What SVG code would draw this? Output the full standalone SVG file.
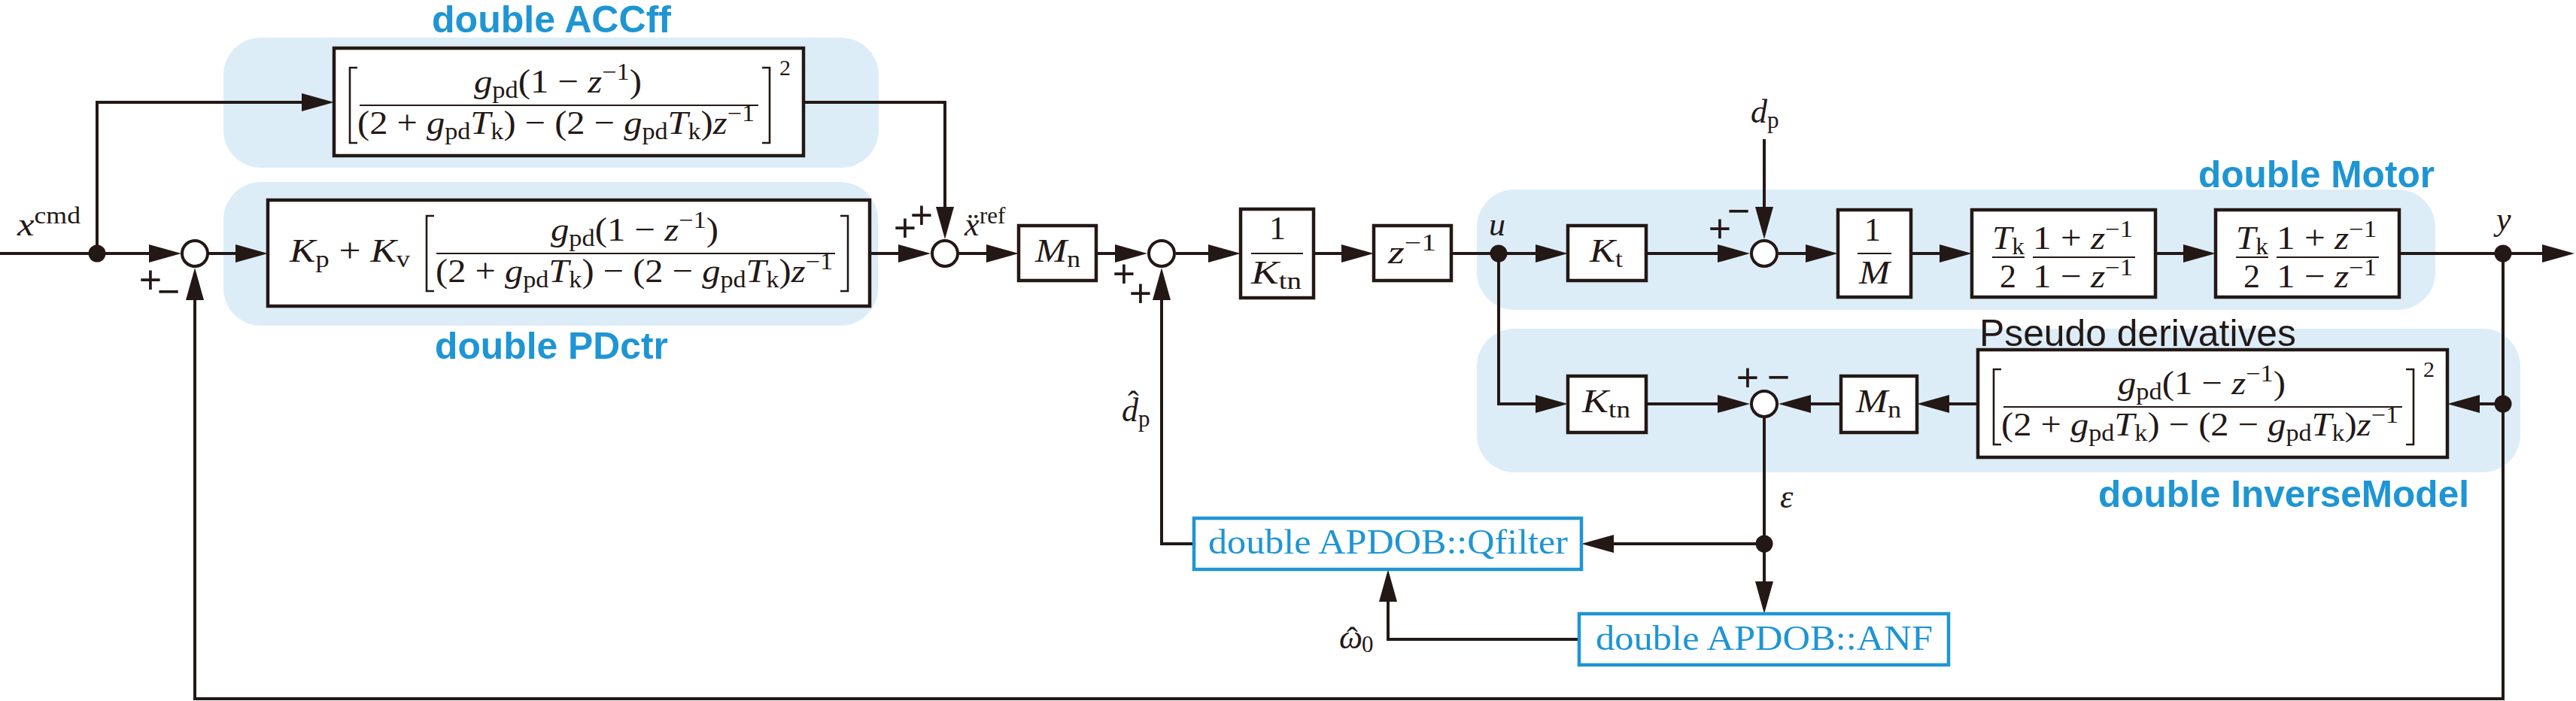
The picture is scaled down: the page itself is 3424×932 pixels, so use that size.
<svg xmlns="http://www.w3.org/2000/svg" width="3424" height="932" viewBox="0 0 3424 932">
<style>
.bg{fill:#dcedf8;stroke:none}
.lbl{font-family:"Liberation Sans",Arial,sans-serif;font-weight:bold;font-size:50px;fill:#1e95d4}
.plain{font-family:"Liberation Sans",Arial,sans-serif;font-size:50px;fill:#231815}
.box{fill:#fff;stroke:#231815;stroke-width:4.5}
.bbox{fill:#fff;stroke:#1e95d4;stroke-width:4.5}
.btxt{font-family:"Liberation Serif","Times New Roman",serif;font-size:46px;fill:#1e95d4}
.sum{fill:#fff;stroke:#231815;stroke-width:4}
.dot{fill:#231815}
.m{font-family:"Liberation Serif","Times New Roman",serif;font-size:44px;fill:#231815}
.i{font-style:italic}
.n{font-style:normal}
.s{font-size:31px}
.sp{font-size:30px}
.sg{font-family:"Liberation Sans",Arial,sans-serif;font-size:52px;fill:#231815;text-anchor:middle}
.bar{stroke:#231815;stroke-width:2.2;fill:none}
.brk{stroke:#231815;stroke-width:2.6;fill:none}
.ln{fill:none;stroke:#231815;stroke-width:4;marker-end:url(#ah)}
</style>
<defs>
<marker id="ah" markerUnits="userSpaceOnUse" markerWidth="44" markerHeight="26" refX="35" refY="12" orient="auto" overflow="visible"><path d="M0,0 L43,12 L0,24 Z" fill="#231815"/></marker>
</defs>
<rect x="0" y="0" width="3424" height="932" fill="#fff"/>

<g id="group-accff">
<rect class="bg" x="297" y="50" width="871" height="173" rx="50"/>
<text class="lbl" x="574" y="43" textLength="318" lengthAdjust="spacingAndGlyphs">double ACCff</text>
</g>
<g id="group-pdctr">
<rect class="bg" x="297" y="242" width="870" height="191" rx="50"/>
<text class="lbl" x="578" y="477" textLength="310" lengthAdjust="spacingAndGlyphs">double PDctr</text>
</g>
<g id="group-motor">
<rect class="bg" x="1963" y="252" width="1274" height="160" rx="50"/>
<text class="lbl" x="2922" y="249" textLength="314" lengthAdjust="spacingAndGlyphs">double Motor</text>
</g>
<g id="group-inverse">
<rect class="bg" x="1963" y="437" width="1387" height="191" rx="50"/>
<text class="lbl" x="2789" y="674" textLength="493" lengthAdjust="spacingAndGlyphs">double InverseModel</text>
</g>

<g id="connectors">
<path class="ln" d="M0,337 H233"/>
<path class="ln" d="M129,337 V136 H436"/>
<path class="ln" d="M277,337 H348"/>
<path class="ln" d="M1156,337 H1229"/>
<path class="ln" d="M1068,136 H1256 V310"/>
<path class="ln" d="M1275,337 H1346"/>
<path class="ln" d="M1457,337 H1517"/>
<path class="ln" d="M1563,337 H1641"/>
<path class="ln" d="M1746,337 H1818"/>
<path class="ln" d="M1929,337 H2076"/>
<path class="ln" d="M2188,337 H2318"/>
<path class="ln" d="M2345,185 V310"/>
<path class="ln" d="M2364,337 H2435"/>
<path class="ln" d="M2540,337 H2613"/>
<path class="ln" d="M2865,337 H2937"/>
<path class="ln" d="M3189,337 H3414"/>
<path class="ln" d="M1992,337 V537 H2076"/>
<path class="ln" d="M2188,537 H2318"/>
<path class="ln" d="M3327,337 V929 H259 V364"/>
<path class="ln" d="M3327,537 H3261"/>
<path class="ln" d="M2629,537 H2556"/>
<path class="ln" d="M2447,537 H2372"/>
<path class="ln" d="M2345,556 V808"/>
<path class="ln" d="M2345,723 H2110"/>
<path class="ln" d="M1587,723 H1544 V364"/>
<path class="ln" d="M2099,850 H1845 V765"/>
</g>

<g id="junctions">
<circle class="dot" cx="129" cy="337" r="11.5"/>
<circle class="dot" cx="1992" cy="337" r="11.5"/>
<circle class="dot" cx="3327" cy="337" r="11.5"/>
<circle class="dot" cx="3327" cy="537" r="11.5"/>
<circle class="dot" cx="2345" cy="723" r="11.5"/>
</g>

<g id="input-label">
<text class="m" x="23" y="313" textLength="84" lengthAdjust="spacingAndGlyphs"><tspan class="i">x</tspan><tspan class="s" dy="-16">cmd</tspan></text>
</g>

<g id="sum1">
<circle class="sum" cx="259" cy="337" r="17"/>
<text class="sg"><tspan x="200" y="390">+</tspan><tspan x="224" y="405">−</tspan></text>
</g>

<g id="accff">
<rect class="box" x="444" y="64" width="624" height="143"/>
<path class="brk" d="M475,90 H465 V190 H475"/>
<path class="brk" d="M1013,90 H1023 V190 H1013"/>
<line class="bar" x1="478" y1="140" x2="1008" y2="140"/>
<text class="m" x="630" y="123" textLength="223" lengthAdjust="spacingAndGlyphs"><tspan class="i">g</tspan><tspan class="s" dy="7">pd</tspan><tspan dy="-7">(1 − </tspan><tspan class="i">z</tspan><tspan class="s" dy="-17">−1</tspan><tspan dy="17">)</tspan></text>
<text class="m" x="475" y="178" textLength="528" lengthAdjust="spacingAndGlyphs">(2 + <tspan class="i">g</tspan><tspan class="s" dy="7">pd</tspan><tspan class="i" dy="-7">T</tspan><tspan class="s" dy="7">k</tspan><tspan dy="-7">) − (2 − </tspan><tspan class="i">g</tspan><tspan class="s" dy="7">pd</tspan><tspan class="i" dy="-7">T</tspan><tspan class="s" dy="7">k</tspan><tspan dy="-7">)</tspan><tspan class="i">z</tspan><tspan class="s" dy="-17">−1</tspan></text>
<text class="m sp" x="1036" y="100">2</text>
</g>

<g id="pdctr">
<rect class="box" x="356" y="266" width="800" height="141"/>
<text class="m" x="385" y="348" textLength="160" lengthAdjust="spacingAndGlyphs"><tspan class="i">K</tspan><tspan class="s" dy="7">p</tspan><tspan dy="-7"> + </tspan><tspan class="i">K</tspan><tspan class="s" dy="7">v</tspan></text>
<path class="brk" d="M577,287 H567 V387 H577"/>
<path class="brk" d="M1117,287 H1127 V387 H1117"/>
<line class="bar" x1="580" y1="337" x2="1110" y2="337"/>
<text class="m" x="732" y="320" textLength="223" lengthAdjust="spacingAndGlyphs"><tspan class="i">g</tspan><tspan class="s" dy="7">pd</tspan><tspan dy="-7">(1 − </tspan><tspan class="i">z</tspan><tspan class="s" dy="-17">−1</tspan><tspan dy="17">)</tspan></text>
<text class="m" x="579" y="375" textLength="528" lengthAdjust="spacingAndGlyphs">(2 + <tspan class="i">g</tspan><tspan class="s" dy="7">pd</tspan><tspan class="i" dy="-7">T</tspan><tspan class="s" dy="7">k</tspan><tspan dy="-7">) − (2 − </tspan><tspan class="i">g</tspan><tspan class="s" dy="7">pd</tspan><tspan class="i" dy="-7">T</tspan><tspan class="s" dy="7">k</tspan><tspan dy="-7">)</tspan><tspan class="i">z</tspan><tspan class="s" dy="-17">−1</tspan></text>
</g>

<g id="sum2">
<circle class="sum" cx="1256" cy="337" r="17"/>
<text class="sg"><tspan x="1203" y="321">+</tspan><tspan x="1225" y="304">+</tspan></text>
<text class="m"><tspan class="i" x="1282" y="313">x</tspan><tspan class="s" x="1302" y="297">ref</tspan><tspan x="1286" y="314">¨</tspan></text>
</g>

<g id="mn1">
<rect class="box" x="1354" y="300" width="103" height="73"/>
<text class="m" x="1376" y="348" textLength="60" lengthAdjust="spacingAndGlyphs"><tspan class="i">M</tspan><tspan class="s" dy="7">n</tspan></text>
</g>

<g id="sum3">
<circle class="sum" cx="1544" cy="337" r="17"/>
<text class="sg"><tspan x="1494" y="382">+</tspan><tspan x="1516" y="408">+</tspan></text>
</g>

<g id="invktn">
<rect class="box" x="1649" y="278" width="97" height="118"/>
<text class="m" x="1698" y="318" text-anchor="middle">1</text>
<line class="bar" x1="1663" y1="337" x2="1732" y2="337"/>
<text class="m" x="1663" y="377" textLength="67" lengthAdjust="spacingAndGlyphs"><tspan class="i">K</tspan><tspan class="s" dy="7">tn</tspan></text>
</g>

<g id="zinv">
<rect class="box" x="1826" y="300" width="103" height="73"/>
<text class="m" x="1845" y="350" textLength="64" lengthAdjust="spacingAndGlyphs"><tspan class="i">z</tspan><tspan class="s" dy="-17">−1</tspan></text>
</g>

<g id="u-label"><text class="m i" x="1979" y="313">u</text></g>

<g id="kt">
<rect class="box" x="2084" y="300" width="104" height="73"/>
<text class="m" x="2113" y="348" textLength="44" lengthAdjust="spacingAndGlyphs"><tspan class="i">K</tspan><tspan class="s" dy="7">t</tspan></text>
</g>

<g id="dp-label">
<text class="m" x="2327" y="163"><tspan class="i">d</tspan><tspan class="s" dy="7">p</tspan></text>
</g>

<g id="sum4">
<circle class="sum" cx="2345" cy="337" r="17"/>
<text class="sg"><tspan x="2286" y="322">+</tspan><tspan x="2311" y="298">−</tspan></text>
</g>

<g id="invm">
<rect class="box" x="2443" y="279" width="97" height="116"/>
<text class="m" x="2489" y="320" text-anchor="middle">1</text>
<line class="bar" x1="2469" y1="337" x2="2514" y2="337"/>
<text class="m i" x="2471" y="377" textLength="41" lengthAdjust="spacingAndGlyphs">M</text>
</g>

<g id="tk1">
<rect class="box" x="2621" y="279" width="244" height="116"/>
<text class="m" x="2648" y="331" textLength="43" lengthAdjust="spacingAndGlyphs"><tspan class="i">T</tspan><tspan class="s" dy="7">k</tspan></text>
<line class="bar" x1="2648" y1="342" x2="2691" y2="342"/>
<text class="m" x="2669" y="382" text-anchor="middle">2</text>
<text class="m" x="2702" y="331" textLength="133" lengthAdjust="spacingAndGlyphs">1 + <tspan class="i">z</tspan><tspan class="s" dy="-16">−1</tspan></text>
<line class="bar" x1="2702" y1="342" x2="2838" y2="342"/>
<text class="m" x="2702" y="382" textLength="133" lengthAdjust="spacingAndGlyphs">1 − <tspan class="i">z</tspan><tspan class="s" dy="-16">−1</tspan></text>
</g>

<g id="tk2">
<rect class="box" x="2945" y="279" width="244" height="116"/>
<text class="m" x="2972" y="331" textLength="43" lengthAdjust="spacingAndGlyphs"><tspan class="i">T</tspan><tspan class="s" dy="7">k</tspan></text>
<line class="bar" x1="2972" y1="342" x2="3015" y2="342"/>
<text class="m" x="2993" y="382" text-anchor="middle">2</text>
<text class="m" x="3026" y="331" textLength="133" lengthAdjust="spacingAndGlyphs">1 + <tspan class="i">z</tspan><tspan class="s" dy="-16">−1</tspan></text>
<line class="bar" x1="3026" y1="342" x2="3162" y2="342"/>
<text class="m" x="3026" y="382" textLength="133" lengthAdjust="spacingAndGlyphs">1 − <tspan class="i">z</tspan><tspan class="s" dy="-16">−1</tspan></text>
</g>

<g id="y-label"><text class="m i" x="3318" y="306">y</text></g>

<g id="ktn2">
<rect class="box" x="2084" y="500" width="104" height="75"/>
<text class="m" x="2103" y="548" textLength="64" lengthAdjust="spacingAndGlyphs"><tspan class="i">K</tspan><tspan class="s" dy="7">tn</tspan></text>
</g>

<g id="sum5">
<circle class="sum" cx="2345" cy="537" r="17"/>
<text class="sg"><tspan x="2323" y="520">+</tspan><tspan x="2364" y="519">−</tspan></text>
</g>

<g id="mn2">
<rect class="box" x="2447" y="500" width="101" height="75"/>
<text class="m" x="2467" y="548" textLength="60" lengthAdjust="spacingAndGlyphs"><tspan class="i">M</tspan><tspan class="s" dy="7">n</tspan></text>
</g>

<g id="pseudo">
<text class="plain" x="2631" y="460" textLength="421" lengthAdjust="spacingAndGlyphs">Pseudo derivatives</text>
<rect class="box" x="2629" y="465" width="624" height="143"/>
<path class="brk" d="M2660,491 H2650 V591 H2660"/>
<path class="brk" d="M3198,491 H3208 V591 H3198"/>
<line class="bar" x1="2663" y1="541" x2="3193" y2="541"/>
<text class="m" x="2815" y="524" textLength="223" lengthAdjust="spacingAndGlyphs"><tspan class="i">g</tspan><tspan class="s" dy="7">pd</tspan><tspan dy="-7">(1 − </tspan><tspan class="i">z</tspan><tspan class="s" dy="-17">−1</tspan><tspan dy="17">)</tspan></text>
<text class="m" x="2660" y="579" textLength="528" lengthAdjust="spacingAndGlyphs">(2 + <tspan class="i">g</tspan><tspan class="s" dy="7">pd</tspan><tspan class="i" dy="-7">T</tspan><tspan class="s" dy="7">k</tspan><tspan dy="-7">) − (2 − </tspan><tspan class="i">g</tspan><tspan class="s" dy="7">pd</tspan><tspan class="i" dy="-7">T</tspan><tspan class="s" dy="7">k</tspan><tspan dy="-7">)</tspan><tspan class="i">z</tspan><tspan class="s" dy="-17">−1</tspan></text>
<text class="m sp" x="3221" y="501">2</text>
</g>

<g id="dphat-label">
<text class="m"><tspan class="i" x="1491" y="560">d</tspan><tspan class="s" x="1513" y="567">p</tspan><tspan x="1499" y="550">ˆ</tspan></text>
</g>

<g id="eps-label"><text class="m i" x="2366" y="675">ε</text></g>

<g id="qfilter">
<rect class="bbox" x="1587" y="689" width="515" height="68"/>
<text class="btxt" x="1606" y="736" textLength="478" lengthAdjust="spacingAndGlyphs">double APDOB::Qfilter</text>
</g>

<g id="anf">
<rect class="bbox" x="2099" y="816" width="491" height="68"/>
<text class="btxt" x="2121" y="864" textLength="448" lengthAdjust="spacingAndGlyphs">double APDOB::ANF</text>
</g>

<g id="omega-label">
<text class="m"><tspan class="i" x="1780" y="862">ω</tspan><tspan class="s" x="1810" y="867">0</tspan><tspan x="1790" y="864">ˆ</tspan></text>
</g>
</svg>
